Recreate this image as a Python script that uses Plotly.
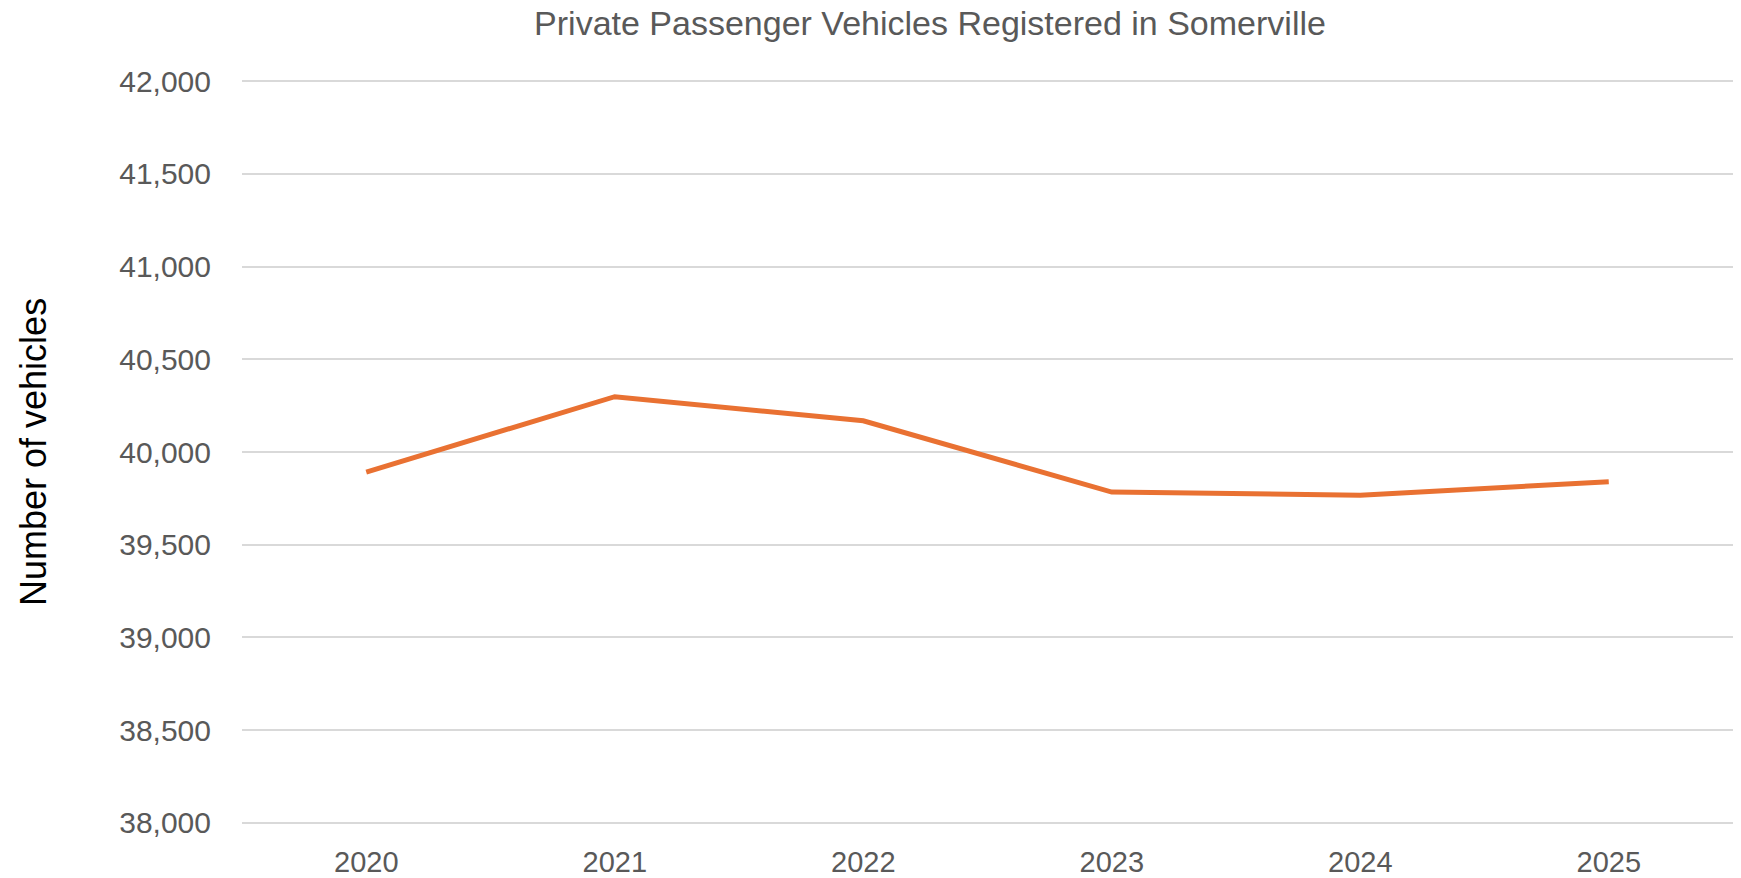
import plotly.graph_objects as go

years = ["2020", "2021", "2022", "2023", "2024", "2025"]
vehicles = [39892, 40298, 40168, 39784, 39767, 39840]
y_ticks = [38000, 38500, 39000, 39500, 40000, 40500, 41000, 41500, 42000]
y_tick_labels = ["38,000", "38,500", "39,000", "39,500", "40,000", "40,500", "41,000", "41,500", "42,000"]

W, H = 1741, 878
L, R, T, B = 242, 8, 79, 878 - 825

FONT = "Liberation Sans, Arial, sans-serif"

fig = go.Figure()
fig.add_trace(go.Scatter(
    x=years, y=vehicles, mode="lines",
    line=dict(color="#E97132", width=5),
    showlegend=False, hoverinfo="x+y",
))

fig.update_layout(
    width=W, height=H,
    margin=dict(l=L, r=R, t=T, b=B, autoexpand=False),
    paper_bgcolor="white", plot_bgcolor="white",
    title=dict(
        text="Private Passenger Vehicles Registered in Somerville",
        x=930 / W, xref="container", xanchor="center",
        y=1 - 23 / H, yref="container", yanchor="middle",
        font=dict(family=FONT, size=34, color="#595959"),
    ),
    xaxis=dict(
        type="category", range=[-0.5, 5.5],
        showgrid=False, zeroline=False, showline=False,
        ticks="", ticklabelstandoff=17,
        tickfont=dict(family=FONT, size=29, color="#595959"),
        automargin=False,
    ),
    yaxis=dict(
        range=[37989, 42011],
        tickvals=y_ticks, ticktext=y_tick_labels,
        showgrid=True, gridcolor="#D9D9D9", gridwidth=1.5,
        zeroline=False, showline=False, ticks="",
        ticklabelstandoff=30,
        tickfont=dict(family=FONT, size=30, color="#595959"),
        automargin=False,
    ),
    annotations=[dict(
        text="Number of vehicles", textangle=-90,
        xref="paper", yref="paper",
        x=(33 - 242) / (1733 - 242), y=0.5,
        xanchor="center", yanchor="middle", showarrow=False,
        font=dict(family=FONT, size=36, color="#000000"),
    )],
)

fig.write_html(
    "out.html",
    config={"displayModeBar": False},
    post_script="document.body.style.margin='0';document.body.style.overflow='hidden';",
)
